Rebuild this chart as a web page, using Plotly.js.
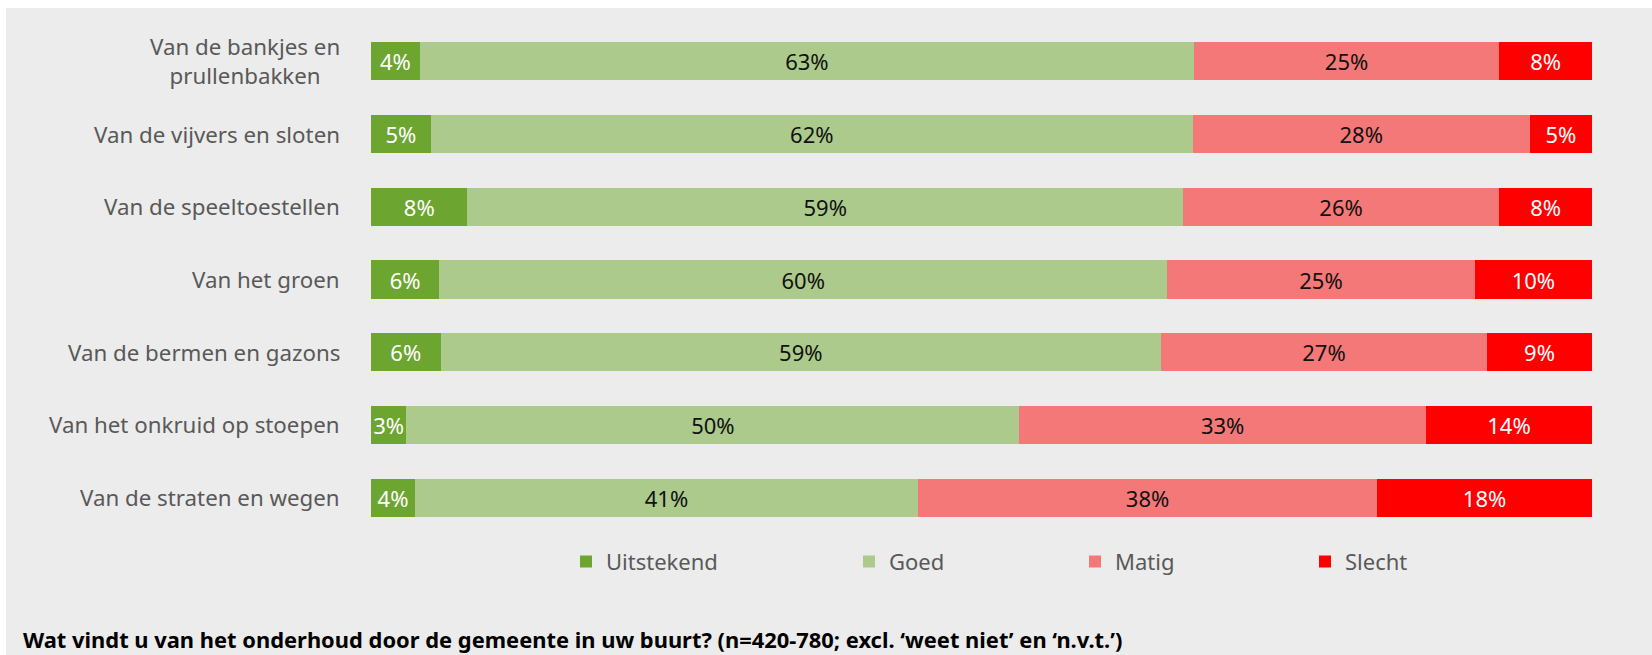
<!DOCTYPE html>
<html>
<head>
<meta charset="utf-8">
<script src="https://cdn.plot.ly/plotly-3.0.1.min.js"></script>
<style>html,body{margin:0;padding:0;background:#fff;}#chart{width:1652px;height:655px;}</style>
</head>
<body>
<div id="chart"></div>
<script>
// Categories (top to bottom)
const categories = [
  'Van de bankjes en<br>prullenbakken',
  'Van de vijvers en sloten',
  'Van de speeltoestellen',
  'Van het groen',
  'Van de bermen en gazons',
  'Van het onkruid op stoepen',
  'Van de straten en wegen'
];
const seriesNames = ['Uitstekend', 'Goed', 'Matig', 'Slecht'];
// Percentages
const uitstekend = [4.0, 4.9, 7.9, 5.6, 5.7, 2.9, 3.6];
const goed       = [63.4, 62.4, 58.6, 59.6, 59.0, 50.2, 41.2];
const matig      = [25.0, 27.6, 25.9, 25.2, 26.7, 33.3, 37.6];
const slecht     = [7.6, 5.1, 7.6, 9.6, 8.6, 13.6, 17.6];
const titleText = 'Wat vindt u van het onderhoud door de gemeente in uw buurt? (n=420-780; excl. ‘weet niet’ en ‘n.v.t.’)';

const colors = ['#6CA630', '#ACCA8C', '#F47878', '#FF0000'];
const textColors = ['#FFFFFF', '#111111', '#111111', '#FFFFFF'];
const values = [uitstekend, goed, matig, slecht];
const legendIds = ['legend', 'legend2', 'legend3', 'legend4'];
const FONT = 'Noto Sans, Open Sans, sans-serif';

const traces = seriesNames.map((name, i) => ({
  type: 'bar',
  orientation: 'h',
  name: name,
  y: categories,
  x: values[i],
  marker: {color: colors[i], line: {width: 0}},
  texttemplate: '%{x:.0f}%',
  textposition: 'inside',
  insidetextanchor: 'middle',
  textangle: 0,
  constraintext: 'none',
  textfont: {family: FONT, size: 22, color: textColors[i]},
  hoverinfo: 'skip',
  legend: legendIds[i]
}));

// layout geometry (pixels)
const W = 1652, H = 655;
const L = 371, R = 60, T = 25, B = 121;
const pw = W - L - R, ph = H - T - B;
const px = v => (v - L) / pw;
const py = v => (H - B - v) / ph;

const legendSquareLeft = [580, 863, 1089, 1319];
const legendY = 561.6;
const legends = {};
legendIds.forEach((id, i) => {
  legends[id] = {
    orientation: 'h',
    x: px(legendSquareLeft[i] - 14),
    xanchor: 'left',
    y: py(legendY),
    yanchor: 'middle',
    bgcolor: 'rgba(0,0,0,0)',
    font: {family: FONT, size: 22, color: '#595959'},
    itemclick: false,
    itemdoubleclick: false
  };
});

const annotations = categories.map(c => ({
  xref: 'paper', x: 0, xanchor: 'right', xshift: -29,
  yref: 'y', y: c, yanchor: 'middle',
  text: c, align: 'center', showarrow: false,
  font: {family: FONT, size: 22.3, color: '#595959'}
}));

const layout = Object.assign({
  width: W, height: H,
  margin: {l: L, r: R, t: T, b: B, pad: 0},
  barmode: 'stack',
  bargap: 0.477,
  paper_bgcolor: '#FFFFFF',
  plot_bgcolor: '#ECECEC',
  font: {family: FONT, color: '#595959'},
  title: {
    text: '<b>' + titleText + '</b>',
    xref: 'container', x: 23 / W, xanchor: 'left',
    yref: 'container', y: (H - 640) / H, yanchor: 'middle',
    font: {family: FONT, size: 21.9, color: '#000000'}
  },
  xaxis: {range: [0, 100], showgrid: false, zeroline: false, showticklabels: false, showline: false, fixedrange: true},
  yaxis: {autorange: 'reversed', showgrid: false, zeroline: false, showticklabels: false, showline: false, type: 'category', fixedrange: true},
  showlegend: true,
  annotations: annotations,
  shapes: [{
    type: 'rect', xref: 'paper', yref: 'paper', layer: 'below',
    x0: px(6), x1: px(W), y0: py(H), y1: py(8),
    fillcolor: '#ECECEC', line: {width: 0}
  }]
}, legends);

Plotly.newPlot('chart', traces, layout, {displayModeBar: false, staticPlot: true});
</script>
</body>
</html>
